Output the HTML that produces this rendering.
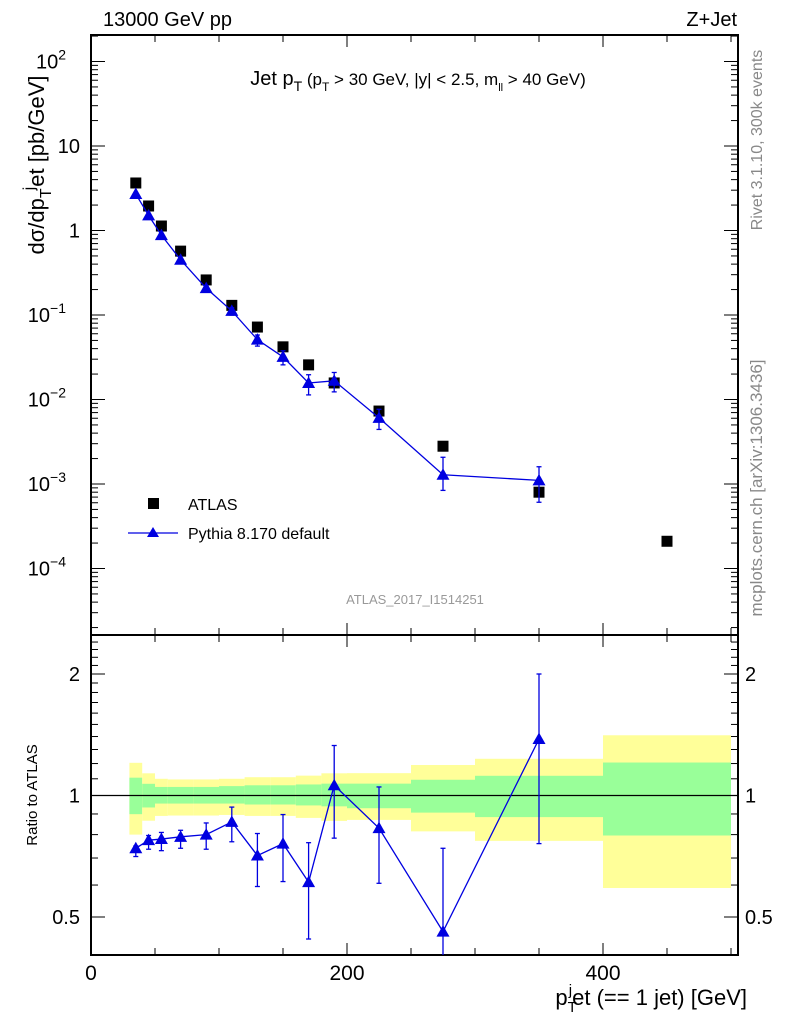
<!DOCTYPE html>
<html><head><meta charset="utf-8"><style>
html,body{margin:0;padding:0;background:#fff;}
svg{display:block;font-family:"Liberation Sans",Arial,sans-serif;}
</style></head><body>
<svg id="chart" width="786" height="1024" viewBox="0 0 786 1024" xmlns="http://www.w3.org/2000/svg">
<text x="103" y="26" font-size="20">13000 GeV pp</text>
<text x="737" y="26" font-size="20" text-anchor="end">Z+Jet</text>
<text x="418" y="85" font-size="20" text-anchor="middle">Jet p<tspan font-size="14" dy="6">T</tspan><tspan dy="-6" font-size="17"> (p</tspan><tspan font-size="12" dy="6">T</tspan><tspan dy="-6" font-size="17"> &gt; 30 GeV, |y| &lt; 2.5, m</tspan><tspan font-size="11" dy="6">ll</tspan><tspan dy="-6" font-size="17"> &gt; 40 GeV)</tspan></text>
<text transform="translate(44,165) rotate(-90)" x="0" y="0" font-size="22" text-anchor="middle">dσ/dp<tspan font-size="16" dy="7">T</tspan><tspan font-size="16" dy="-17" dx="-2">j</tspan><tspan dy="10">et [pb/GeV]</tspan></text>
<text transform="translate(762,140) rotate(-90)" font-size="16" fill="#888" text-anchor="middle">Rivet 3.1.10,  300k events</text>
<text transform="translate(762,488) rotate(-90)" font-size="17" fill="#888" text-anchor="middle">mcplots.cern.ch [arXiv:1306.3436]</text>
<text x="415" y="604" font-size="13" fill="#999" text-anchor="middle">ATLAS_2017_I1514251</text>
<text transform="translate(37,795) rotate(-90)" font-size="15" text-anchor="middle">Ratio to ATLAS</text>
<text x="747" y="1005" font-size="22" text-anchor="end">p<tspan font-size="15" dy="7">T</tspan><tspan font-size="15" dy="-17" dx="-8">j</tspan><tspan dy="10">et (== 1 jet) [GeV]</tspan></text>
<g id="ratio-bands"></g>
<g id="axes"></g>
<g id="marks"></g>
<g>
<rect x="148" y="498" width="11" height="11" fill="#000"/>
<text x="188" y="510" font-size="16">ATLAS</text>
<line x1="128" y1="533" x2="178" y2="533" stroke="#0000e0" stroke-width="1.3"/>
<polygon points="153,527 159,537 147,537" fill="#0000e0"/>
<text x="188" y="539" font-size="16">Pythia 8.170 default</text>
</g>
</svg>
<script>
const binLo=[30,40,50,60,80,100,120,140,160,180,200,250,300,400];
const binHi=[40,50,60,80,100,120,140,160,180,200,250,300,400,500];
const xCenters=[35,45,55,70,90,110,130,150,170,190,225,275,350,450];
const atlasVals=[3.65,1.95,1.13,0.57,0.26,0.13,0.072,0.042,0.0257,0.0157,0.0073,0.0028,0.0008,0.00021];
const ratioVals=[0.74,0.775,0.78,0.79,0.80,0.86,0.71,0.76,0.61,1.06,0.83,0.46,1.38];
const ratioUp=[0.75,0.796,0.81,0.82,0.855,0.936,0.805,0.897,0.764,1.33,1.05,0.74,2.0];
const ratioDn=[0.706,0.736,0.73,0.74,0.736,0.768,0.595,0.612,0.441,0.784,0.606,0.3,0.76];
const yelUp=[1.205,1.135,1.10,1.096,1.096,1.10,1.11,1.11,1.12,1.135,1.136,1.19,1.233,1.41];
const yelDn=[0.80,0.866,0.89,0.892,0.892,0.895,0.89,0.89,0.88,0.865,0.87,0.815,0.772,0.59];
const grnUp=[1.107,1.069,1.05,1.05,1.05,1.055,1.06,1.06,1.065,1.07,1.07,1.094,1.119,1.207];
const grnDn=[0.899,0.934,0.955,0.955,0.955,0.955,0.95,0.95,0.945,0.94,0.93,0.907,0.884,0.796];
const xTickLabels=["0","200","400"];
const mainTickExp=[2,1,0,-1,-2,-3,-4];
const mainTickLabels=["10|2","10","1","10|−1","10|−2","10|−3","10|−4"];
const ratioTickVals=[0.5,1,2];

const NS="http://www.w3.org/2000/svg";
const L=91,R=738,T=35,MB=635,RB=955;
const sx=(v)=>L+v*(603-L)/400;
const ym=(v)=>230.5-84.5*Math.log10(v);
const yr=(r)=>795.5-121.5*Math.log2(r);
function mk(tag,attrs,parent){const e=document.createElementNS(NS,tag);for(const k in attrs)e.setAttribute(k,attrs[k]);parent.appendChild(e);return e;}
const axes=document.getElementById('axes'),marks=document.getElementById('marks'),bands=document.getElementById('ratio-bands');

for(let i=0;i<binLo.length;i++){
  const x1=sx(binLo[i]),w=sx(binHi[i])-x1;
  const y=mk('rect',{x:x1,y:yr(yelUp[i]),width:w,height:yr(yelDn[i])-yr(yelUp[i]),fill:'#ffff99'},bands);
  
  
  const g=mk('rect',{x:x1,y:yr(grnUp[i]),width:w,height:yr(grnDn[i])-yr(grnUp[i]),fill:'#99ff99'},bands);
  
  
}
const one=mk('line',{x1:L,x2:R,y1:yr(1),y2:yr(1),stroke:'#000','stroke-width':1.2},bands);



const f1=mk('rect',{x:L,y:T,width:R-L,height:MB-T,fill:'none',stroke:'#000','stroke-width':2},axes);


const f2=mk('rect',{x:L,y:MB,width:R-L,height:RB-MB,fill:'none',stroke:'#000','stroke-width':2},axes);



for(let v=0;v<=500;v+=50){
  const x=sx(v),maj=(v%200===0);const len=maj?12:7;
  for(const [yb,dir] of [[T,1],[MB,-1],[MB,1],[RB,-1]]){
    mk('line',{x1:x,x2:x,y1:yb,y2:yb+dir*len,stroke:'#000','stroke-width':1},axes);
  }
}
xTickLabels.forEach(s=>{
  const t=mk('text',{x:sx(+s),y:980,'font-size':21,'text-anchor':'middle'},axes);t.textContent=s;
  
  
});
for(let e=-5;e<=2;e++){for(let m=1;m<10;m++){
  const v=m*Math.pow(10,e),y=ym(v);if(y<T||y>MB)continue;
  const len=m===1?14:7;
  mk('line',{x1:L,x2:L+len,y1:y,y2:y,stroke:'#000','stroke-width':1},axes);
  mk('line',{x1:R,x2:R-len,y1:y,y2:y,stroke:'#000','stroke-width':1},axes);
}}
mainTickExp.forEach((e,i)=>{
  const p=mainTickLabels[i].split('|');
  const t=mk('text',{x:p.length>1?66:80,y:ym(Math.pow(10,e))+7,'font-size':20,'text-anchor':'end'},axes);
  t.textContent=p[0];
  if(p.length>1){const s=mk('tspan',{'font-size':14,dy:-9},t);s.textContent=p[1];}
  
  
});
for(let r=0.4;r<=2.55;r+=0.1){
  const y=yr(r);if(y<MB||y>RB)continue;
  const maj=ratioTickVals.some(v=>Math.abs(v-r)<1e-6);const len=maj?14:7;
  mk('line',{x1:L,x2:L+len,y1:y,y2:y,stroke:'#000','stroke-width':1},axes);
  mk('line',{x1:R,x2:R-len,y1:y,y2:y,stroke:'#000','stroke-width':1},axes);
}
ratioTickVals.forEach(v=>{
  const s=String(v);
  const a=mk('text',{x:80,y:yr(v)+7,'font-size':20,'text-anchor':'end'},axes);a.textContent=s;
  
  
  const b=mk('text',{x:745,y:yr(v)+7,'font-size':20},axes);b.textContent=s;
  
  
});

const blue='#0000e0';
function tri(x,y,name){const p=mk('polygon',{points:`${x},${y-6.5} ${x+6.5},${y+5} ${x-6.5},${y+5}`,fill:blue},marks);
  
  }
function err(x,y1,y2,name,clipTop,clipBot){
  y1=Math.max(y1,clipTop);y2=Math.min(y2,clipBot);
  const l=mk('line',{x1:x,x2:x,y1:y1,y2:y2,stroke:blue,'stroke-width':1.3},marks);
  
  
  if(y1>clipTop)mk('line',{x1:x-2.5,x2:x+2.5,y1:y1,y2:y1,stroke:blue,'stroke-width':1.3},marks);
  if(y2<clipBot)mk('line',{x1:x-2.5,x2:x+2.5,y1:y2,y2:y2,stroke:blue,'stroke-width':1.3},marks);
}
atlasVals.forEach((v,i)=>{
  const r=mk('rect',{x:sx(xCenters[i])-5.5,y:ym(v)-5.5,width:11,height:11,fill:'#000'},marks);
  
  
});
let pm='',pr='';
ratioVals.forEach((r,i)=>{
  const x=sx(xCenters[i]),pv=atlasVals[i]*r;
  pm+=(i?'L':'M')+x+','+ym(pv);pr+=(i?'L':'M')+x+','+yr(r);
});
const lm=mk('path',{d:pm,fill:'none',stroke:blue,'stroke-width':1.3},marks);


const lr=mk('path',{d:pr,fill:'none',stroke:blue,'stroke-width':1.3},marks);


ratioVals.forEach((r,i)=>{
  const x=sx(xCenters[i]),pv=atlasVals[i]*r;
  err(x,ym(atlasVals[i]*ratioUp[i]),ym(atlasVals[i]*ratioDn[i]),'pythia-error',T,MB);
  tri(x,ym(pv),'pythia-point');
  err(x,yr(ratioUp[i]),yr(ratioDn[i]),'ratio-error',MB,RB);
  tri(x,yr(r),'ratio-point');
});
</script>
</body></html>
